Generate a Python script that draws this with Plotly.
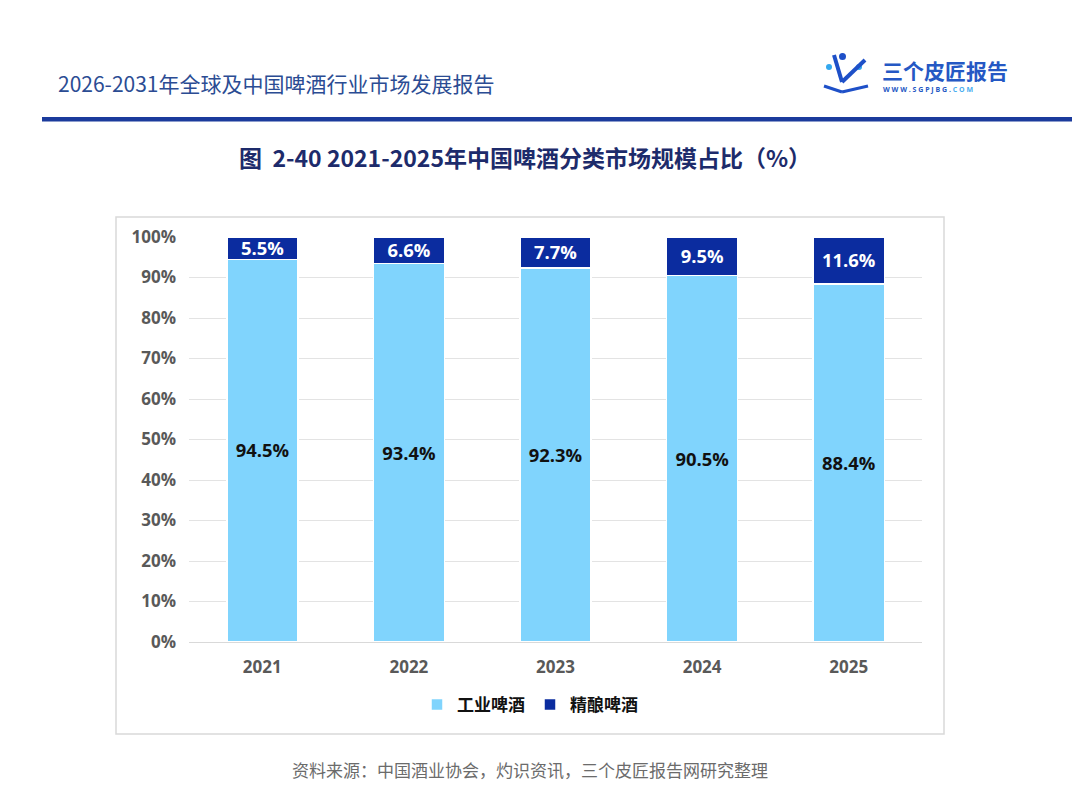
import plotly.graph_objects as go

# data
years = ["2021", "2022", "2023", "2024", "2025"]
industrial = [94.5, 93.4, 92.3, 90.5, 88.4]
craft = [5.5, 6.6, 7.7, 9.5, 11.6]
y_ticks = [0, 10, 20, 30, 40, 50, 60, 70, 80, 90, 100]
y_tick_labels = [f"{v}%" for v in y_ticks]

# page is shown with an 8px body margin, so the figure is a bit smaller
OFF = 8
W, H = 1080 - OFF, 791 - OFF
# plot area in page pixels
PL, PR, PT, PB = 189, 922, 237, 642

FONT = "Open Sans, Noto Sans CJK SC, sans-serif"
CJK = "Noto Sans CJK SC, sans-serif"


def px_x(x):
    return (x - PL) / (PR - PL)


def px_y(y):
    return (PB - y) / (PB - PT)


fig = go.Figure()

fig.add_trace(go.Bar(
    x=years, y=industrial, name="工业啤酒",
    marker=dict(color="#80d4fd", line=dict(color="white", width=1.5)),
    text=[f"{v}%" for v in industrial], textposition="inside",
    insidetextanchor="middle",
    textfont=dict(family=FONT, size=19, color="#111111", weight="bold"),
))
fig.add_trace(go.Bar(
    x=years, y=craft, name="精酿啤酒",
    marker=dict(color="#0b2c9f", line=dict(color="white", width=1.5)),
    text=[f"{v}%" for v in craft], textposition="inside",
    insidetextanchor="middle",
    textfont=dict(family=FONT, size=19, color="white", weight="bold"),
))

shapes = [
    # chart frame
    dict(type="rect", xref="paper", yref="paper",
         x0=px_x(116), x1=px_x(944), y0=px_y(734), y1=px_y(217),
         line=dict(color="#d9d9d9", width=1.5), layer="below"),
    # header rule
    dict(type="rect", xref="paper", yref="paper",
         x0=px_x(42), x1=px_x(1085), y0=px_y(121.5), y1=px_y(117),
         line=dict(width=0), fillcolor="#1b3b9c"),
]

# small logo icon made of simple shapes
shapes += [
    dict(type="circle", xref="paper", yref="paper",
         x0=px_x(839), x1=px_x(846), y0=px_y(60), y1=px_y(53),
         line=dict(width=0), fillcolor="#1e50c8"),
    dict(type="circle", xref="paper", yref="paper",
         x0=px_x(826), x1=px_x(832), y0=px_y(70), y1=px_y(64),
         line=dict(width=0), fillcolor="#33a8ef"),
    dict(type="circle", xref="paper", yref="paper",
         x0=px_x(856), x1=px_x(862), y0=px_y(70), y1=px_y(64),
         line=dict(width=0), fillcolor="#33a8ef"),
    dict(type="line", xref="paper", yref="paper",
         x0=px_x(834), x1=px_x(842), y0=px_y(55), y1=px_y(82),
         line=dict(color="#1e50c8", width=4)),
    dict(type="line", xref="paper", yref="paper",
         x0=px_x(842), x1=px_x(865), y0=px_y(82), y1=px_y(60),
         line=dict(color="#1e50c8", width=4)),
    dict(type="line", xref="paper", yref="paper",
         x0=px_x(824), x1=px_x(842), y0=px_y(86), y1=px_y(92),
         line=dict(color="#1e50c8", width=3)),
    dict(type="line", xref="paper", yref="paper",
         x0=px_x(842), x1=px_x(868), y0=px_y(92), y1=px_y(86),
         line=dict(color="#1e50c8", width=3)),
]

annotations = [
    dict(text="2026-2031年全球及中国啤酒行业市场发展报告", xref="paper", yref="paper",
         x=px_x(56), y=px_y(83), xanchor="left", yanchor="middle", showarrow=False,
         font=dict(family=CJK, size=21, color="#2b4c93")),
    dict(text="三个皮匠报告", xref="paper", yref="paper",
         x=px_x(880), y=px_y(70), xanchor="left", yanchor="middle", showarrow=False,
         font=dict(family=CJK, size=21, color="#2558c4", weight="bold")),
    dict(text="W W W . S G P J B G . <span style='color:#4aaef0'>C O M</span>", xref="paper", yref="paper",
         x=px_x(881), y=px_y(89), xanchor="left", yanchor="middle", showarrow=False,
         font=dict(family=FONT, size=7, color="#2558c4", weight="bold")),
    dict(text="图  2-40 2021-2025年中国啤酒分类市场规模占比（%）", xref="paper", yref="paper",
         x=px_x(525), y=px_y(157), xanchor="center", yanchor="middle", showarrow=False,
         font=dict(family=CJK, size=23, color="#1d2b6b", weight="bold")),
    dict(text="资料来源：中国酒业协会，灼识资讯，三个皮匠报告网研究整理", xref="paper", yref="paper",
         x=px_x(530), y=px_y(769), xanchor="center", yanchor="middle", showarrow=False,
         font=dict(family=CJK, size=17, color="#6b6b6b")),
]

fig.update_layout(
    width=W, height=H,
    margin=dict(l=PL - OFF, r=W - (PR - OFF), t=PT - OFF, b=H - (PB - OFF)),
    paper_bgcolor="white", plot_bgcolor="white",
    barmode="stack", bargap=0.515,
    uniformtext=dict(minsize=18, mode="show"),
    shapes=shapes, annotations=annotations,
    legend=dict(orientation="h", x=px_x(530), y=px_y(705), xanchor="center", yanchor="middle",
                font=dict(family=CJK, size=17, color="#111111", weight="bold"),
                itemwidth=30, traceorder="normal"),
    font=dict(family=FONT),
)
fig.update_xaxes(
    showgrid=False, showline=True, linecolor="#d9d9d9", linewidth=1,
    tickfont=dict(family=FONT, size=17, color="#595959", weight="bold"),
    ticks="", ticklabelstandoff=10,
)
fig.update_yaxes(
    range=[0, 100], tickvals=y_ticks, ticktext=y_tick_labels,
    showgrid=True, gridcolor="#e3e3e3", gridwidth=1, zeroline=False,
    tickfont=dict(family=FONT, size=17, color="#595959", weight="bold"),
    ticks="", ticklabelstandoff=12,
)

fig.write_html("out.html")
